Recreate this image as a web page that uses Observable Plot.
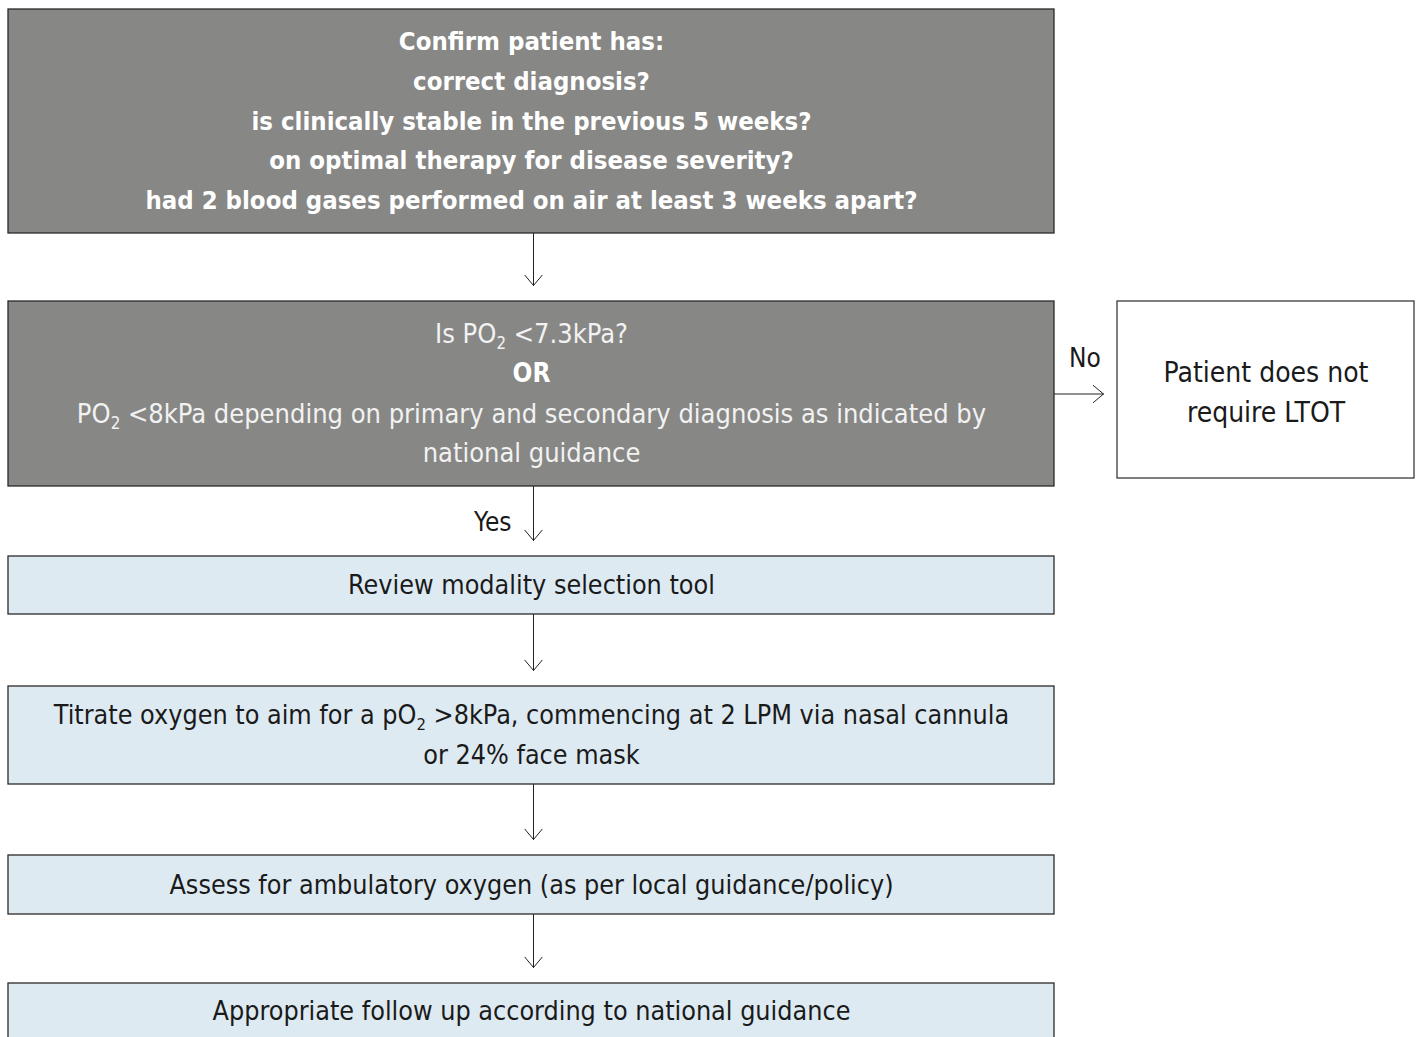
<!DOCTYPE html>
<html><head><meta charset="utf-8">
<script src="https://cdn.jsdelivr.net/npm/d3@7"></script>
<script src="https://cdn.jsdelivr.net/npm/@observablehq/plot@0.6"></script>
<style>
html,body{margin:0;padding:0;background:#fff;}
#chart svg{display:block;}
</style>
</head><body><div id="chart"></div>
<script>
// Flowchart content
const nodeIds = ["confirm", "po2", "noLtot", "review", "titrate", "ambulatory", "followup"];
const nodeKinds = ["dark", "dark", "plain", "light", "light", "light", "light"];
const nodeLines = [
  ["Confirm patient has:", "correct diagnosis?", "is clinically stable in the previous 5 weeks?", "on optimal therapy for disease severity?", "had 2 blood gases performed on air at least 3 weeks apart?"],
  ["Is PO₂ <7.3kPa?", "OR", "PO₂ <8kPa depending on primary and secondary diagnosis as indicated by", "national guidance"],
  ["Patient does not", "require LTOT"],
  ["Review modality selection tool"],
  ["Titrate oxygen to aim for a pO₂ >8kPa, commencing at 2 LPM via nasal cannula", "or 24% face mask"],
  ["Assess for ambulatory oxygen (as per local guidance/policy)"],
  ["Appropriate follow up according to national guidance"]
];
const boldLines = ["OR"];
const edgeFrom = ["confirm", "po2", "po2", "review", "titrate", "ambulatory"];
const edgeTo = ["po2", "noLtot", "review", "titrate", "ambulatory", "followup"];
const edgeLabels = ["", "No", "Yes", "", "", ""];

// Layout (pixel space of the 1418x1037 canvas)
const layout = {
  confirm:    {x1: 8, x2: 1054, y1: 9, y2: 233},
  po2:        {x1: 8, x2: 1054, y1: 301, y2: 486},
  noLtot:     {x1: 1117, x2: 1414, y1: 301, y2: 478},
  review:     {x1: 8, x2: 1054, y1: 556, y2: 614},
  titrate:    {x1: 8, x2: 1054, y1: 686, y2: 784},
  ambulatory: {x1: 8, x2: 1054, y1: 855, y2: 914},
  followup:   {x1: 8, x2: 1054, y1: 983, y2: 1045}
};
const lineGap = 39.8;
const arrowGap = 16;
const fills = {dark: "#878785", plain: "#ffffff", light: "#deeaf2"};

const nodes = nodeIds.map((id, i) => ({id, kind: nodeKinds[i], ...layout[id]}));

const textRows = [];
nodeIds.forEach((id, i) => {
  const b = layout[id];
  const lines = nodeLines[i];
  const cx = (b.x1 + b.x2) / 2;
  const cy = id === "followup" ? 1011 : (b.y1 + b.y2) / 2 + (id === "noLtot" ? 3 : 0);
  lines.forEach((t, j) => {
    textRows.push({x: cx, y: cy + (j - (lines.length - 1) / 2) * lineGap, text: t, kind: nodeKinds[i], id, bold: boldLines.includes(t)});
  });
});

const edges = edgeFrom.map((f, i) => {
  const a = layout[f], b = layout[edgeTo[i]];
  if (b.x1 > a.x2) {
    const y = (a.y1 + a.y2) / 2;
    return {x1: a.x2, y1: y, x2: b.x1 - 14, y2: y, label: edgeLabels[i], side: true};
  }
  const x = 533;
  return {x1: x, y1: a.y2, x2: x, y2: b.y1 - arrowGap, label: edgeLabels[i], side: false};
});

const font = "'DejaVu Sans Condensed', 'DejaVu Sans', sans-serif";

const chart = Plot.plot({
  width: 1418,
  height: 1037,
  margin: 0,
  x: {domain: [0, 1418], range: [0, 1418], axis: null},
  y: {domain: [0, 1037], range: [0, 1037], axis: null},
  style: {fontFamily: font, background: "#fff"},
  marks: [
    Plot.rect(nodes, {x1: "x1", x2: "x2", y1: "y1", y2: "y2",
      fill: d => fills[d.kind], stroke: d => d.kind === "plain" ? "#3a3a3a" : "#2a2a2a", strokeWidth: 1.3}),
    Plot.arrow(edges, {x1: "x1", y1: "y1", x2: "x2", y2: "y2", stroke: "#222", strokeWidth: 1, headLength: 20, headAngle: 80}),
    Plot.text(edges.filter(d => d.label && d.side), {x: d => (d.x1 + d.x2) / 2 + 6, y: d => d.y1 - 35, text: "label",
      fill: "#1a1a1a", fontSize: 26, fontFamily: font}),
    Plot.text(edges.filter(d => d.label && !d.side), {x: d => d.x1 - 22, y: d => d.y1 + 36, text: "label",
      textAnchor: "end", fill: "#1a1a1a", fontSize: 26, fontFamily: font}),
    Plot.text(textRows.filter(d => d.kind === "dark" && d.id === "confirm"), {x: "x", y: "y", text: "text",
      fill: "#ffffff", fontSize: 25.5, fontWeight: "bold", fontFamily: font}),
    Plot.text(textRows.filter(d => d.kind === "dark" && d.id !== "confirm" && !d.bold), {x: "x", y: "y", text: "text",
      fill: "#f2f2f2", fontSize: 27, fontFamily: font}),
    Plot.text(textRows.filter(d => d.bold), {x: "x", y: "y", text: "text",
      fill: "#ffffff", fontSize: 26, fontWeight: "bold", fontFamily: font}),
    Plot.text(textRows.filter(d => d.kind === "light"), {x: "x", y: "y", text: "text",
      fill: "#1a1a1a", fontSize: 26.7, fontFamily: font}),
    Plot.text(textRows.filter(d => d.kind === "plain"), {x: "x", y: "y", text: "text",
      fill: "#1a1a1a", fontSize: 28, fontFamily: font})
  ]
});

// Render "₂" as a true lowered subscript "2"
chart.querySelectorAll("text").forEach(t => {
  const s = t.textContent;
  if (!s.includes("₂")) return;
  const parts = s.split("₂");
  while (t.firstChild) t.removeChild(t.firstChild);
  const ns = "http://www.w3.org/2000/svg";
  parts.forEach((p, i) => {
    const a = document.createElementNS(ns, "tspan");
    a.textContent = p;
    if (i > 0) a.setAttribute("dy", "-6");
    t.appendChild(a);
    if (i < parts.length - 1) {
      const sub = document.createElementNS(ns, "tspan");
      sub.textContent = "2";
      sub.setAttribute("dy", "6");
      sub.setAttribute("font-size", "62%");
      t.appendChild(sub);
    }
  });
});
document.getElementById("chart").appendChild(chart);
</script>
</body></html>
